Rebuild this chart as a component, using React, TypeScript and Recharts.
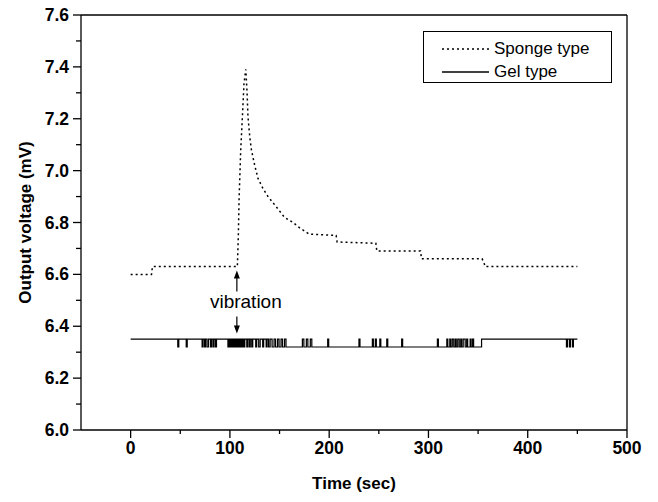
import React from 'react';
import { LineChart, Line, XAxis, YAxis, ReferenceLine, ReferenceDot, Legend } from 'recharts';

const FONT = '"Liberation Sans", Arial, sans-serif';

const seriesNames = ['Sponge type', 'Gel type'];

// sponge type sensor: time (sec) / output voltage (mV)
const spongeTime = [
  0, 21, 21.5, 22, 107.5, 108.5, 109.2, 110.9, 112.6, 114.2, 116, 117.3, 118.2, 120, 121.7,
  125, 128.3, 133.4, 138.4, 146.8, 155, 163.6, 170, 180, 207, 208, 247, 248, 292, 293,
  354, 356, 357, 450,
];
const spongeVoltage = [
  6.6, 6.6, 6.615, 6.63, 6.63, 6.75, 6.886, 7.08, 7.21, 7.336, 7.39, 7.3, 7.208, 7.13, 7.079,
  7.02, 6.97, 6.93, 6.9, 6.86, 6.82, 6.8, 6.78, 6.755, 6.75, 6.725, 6.72, 6.69, 6.69, 6.66,
  6.66, 6.645, 6.63, 6.63,
];

// gel type sensor: level changes (time, mV), held until the next entry
const gelPoints: [number, number][] = [
  [0, 6.35], [47.5, 6.32], [48.5, 6.35], [56, 6.32], [57, 6.35], [72, 6.32], [73, 6.35],
  [74.5, 6.32], [75.5, 6.35], [77, 6.32], [78.5, 6.35], [80.5, 6.32], [81.5, 6.35], [83, 6.32],
  [84, 6.35], [85.5, 6.32], [86.5, 6.35], [98, 6.32], [99, 6.35], [100, 6.32], [101, 6.35],
  [102, 6.32], [103, 6.35], [104, 6.32], [105, 6.35], [106, 6.32], [107, 6.35], [108, 6.32],
  [109, 6.35], [110, 6.32], [111, 6.35], [112, 6.32], [113, 6.35], [114, 6.32], [115, 6.35],
  [117, 6.32], [118, 6.35], [119.5, 6.32], [120.5, 6.35], [122, 6.32], [123, 6.35], [126, 6.32],
  [127, 6.35], [129, 6.32], [130.5, 6.35], [133, 6.32], [134, 6.35], [136.5, 6.32], [137.5, 6.35],
  [139, 6.32], [140.5, 6.35], [142.5, 6.32], [144.5, 6.35], [146, 6.32], [148, 6.35], [149.5, 6.32],
  [151.5, 6.35], [153, 6.32], [155, 6.35], [156.5, 6.32], [173, 6.35], [174.5, 6.32], [177, 6.35],
  [178.5, 6.32], [181, 6.35], [182.5, 6.32], [198.5, 6.35], [199.5, 6.32], [230, 6.35], [231, 6.32],
  [243.5, 6.35], [244.5, 6.32], [246.5, 6.35], [247.5, 6.32], [251, 6.35], [252, 6.32], [258, 6.35],
  [259, 6.32], [273, 6.35], [274, 6.32], [309, 6.35], [310, 6.32], [318.5, 6.35], [319.5, 6.32],
  [321.5, 6.35], [322.5, 6.32], [324, 6.35], [325.5, 6.32], [327, 6.35], [328, 6.32], [329.5, 6.35],
  [331, 6.32], [332.5, 6.35], [333.5, 6.32], [335, 6.35], [337, 6.32], [338.5, 6.35], [339.5, 6.32],
  [342, 6.35], [343, 6.32], [344.5, 6.35], [345.5, 6.32], [353.5, 6.35], [439, 6.32], [440, 6.35],
  [442, 6.32], [443, 6.35], [445, 6.32], [446, 6.35], [450, 6.35],
];

const xTicks = [0, 50, 100, 150, 200, 250, 300, 350, 400, 450, 500];
const yTicks = [6.0, 6.1, 6.2, 6.3, 6.4, 6.5, 6.6, 6.7, 6.8, 6.9, 7.0, 7.1, 7.2, 7.3, 7.4, 7.5, 7.6];

const spongeData = spongeTime.map((t, i) => ({ t, v: spongeVoltage[i] }));
const gelData = gelPoints.map(([t, v]) => ({ t, v }));

const XTick = (props: any) => {
  const { x, y, payload } = props;
  const major = payload.value % 100 === 0;
  return (
    <g>
      <line x1={x} x2={x} y1={y} y2={y + (major ? 8 : 4)} stroke="#000" strokeWidth={1.3} />
      {major && (
        <text x={x} y={y + 18} textAnchor="middle" dominantBaseline="central"
          fontFamily={FONT} fontWeight="bold" fontSize={17.5} fill="#000">
          {payload.value}
        </text>
      )}
    </g>
  );
};

const YTick = (props: any) => {
  const { x, y, payload } = props;
  const major = Math.round(payload.value * 10) % 2 === 0;
  return (
    <g>
      <line x1={x} x2={x - (major ? 8 : 5)} y1={y} y2={y} stroke="#000" strokeWidth={1.3} />
      {major && (
        <text x={x - 12} y={y} textAnchor="end" dominantBaseline="central"
          fontFamily={FONT} fontWeight="bold" fontSize={17.5} fill="#000">
          {payload.value.toFixed(1)}
        </text>
      )}
    </g>
  );
};

const YTitle = ({ viewBox }: any) => {
  const cx = viewBox.x + 25;
  const cy = viewBox.y + viewBox.height / 2;
  return (
    <text x={cx} y={cy} transform={`rotate(-90 ${cx} ${cy})`} textAnchor="middle"
      dominantBaseline="central" fontFamily={FONT} fontWeight="bold" fontSize={17} fill="#000">
      Output voltage (mV)
    </text>
  );
};

const XTitle = ({ viewBox }: any) => {
  const cx = viewBox.x + viewBox.width / 2;
  const cy = viewBox.y + 53;
  return (
    <text x={cx} y={cy} textAnchor="middle" dominantBaseline="central"
      fontFamily={FONT} fontWeight="bold" fontSize={17} fill="#000">
      Time (sec)
    </text>
  );
};

const VibrationMark = ({ cx, cy }: any) => (
  <g>
    <line x1={cx} x2={cx} y1={cy - 10} y2={cy - 25} stroke="#000" strokeWidth={1.2} />
    <polygon points={`${cx},${cy - 31} ${cx - 3},${cy - 23} ${cx + 3},${cy - 23}`} fill="#000" />
    <text x={cx + 9} y={cy} textAnchor="middle" dominantBaseline="central"
      fontFamily={FONT} fontSize={19} fill="#000">
      vibration
    </text>
    <line x1={cx} x2={cx} y1={cy + 15} y2={cy + 26} stroke="#000" strokeWidth={1.2} />
    <polygon points={`${cx},${cy + 32} ${cx - 3},${cy + 24} ${cx + 3},${cy + 24}`} fill="#000" />
  </g>
);

const renderLegend = ({ payload }: any) => {
  const items = [...(payload || [])].sort(
    (a: any, b: any) => seriesNames.indexOf(a.value) - seriesNames.indexOf(b.value),
  );
  return (
    <div style={{ border: '1px solid #000', background: '#fff', width: 189, height: 52,
      boxSizing: 'border-box', paddingTop: 5, fontFamily: FONT, fontSize: 17, color: '#000' }}>
      {items.map((entry: any) => (
        <div key={entry.value} style={{ display: 'flex', alignItems: 'center', height: 23 }}>
          <svg width={70} height={10} style={{ flex: 'none' }}>
            <line x1={18} x2={65} y1={5} y2={5} stroke="#000" strokeWidth={1.3}
              strokeDasharray={entry.payload?.strokeDasharray} />
          </svg>
          <span style={{ lineHeight: '23px' }}>{entry.value}</span>
        </div>
      ))}
    </div>
  );
};

export default function App() {
  return (
    <div style={{ position: 'absolute', left: 0, top: 0, background: '#fff' }}>
      <LineChart width={658} height={502} margin={{ top: 15, right: 31, bottom: 0, left: 0 }}>
        <XAxis type="number" dataKey="t" domain={[-50, 500]} ticks={xTicks} interval={0}
          allowDataOverflow height={72} tickSize={0} tickMargin={0} tickLine={false}
          axisLine={{ stroke: '#000', strokeWidth: 1.3 }} tick={<XTick />} label={<XTitle />} />
        <YAxis type="number" dataKey="v" domain={[6.0, 7.6]} ticks={yTicks} interval={0}
          allowDataOverflow width={81} tickSize={0} tickMargin={0} tickLine={false}
          axisLine={{ stroke: '#000', strokeWidth: 1.3 }} tick={<YTick />} label={<YTitle />} />
        <ReferenceLine y={7.6} stroke="#000" strokeWidth={1.3} ifOverflow="extendDomain" />
        <ReferenceLine x={500} stroke="#000" strokeWidth={1.3} ifOverflow="extendDomain" />
        <Legend layout="vertical" align="center" verticalAlign="middle" content={renderLegend}
          wrapperStyle={{ left: 423, top: 31, width: 189, height: 52 }} />
        <Line data={spongeData} dataKey="v" name={seriesNames[0]} type="linear" stroke="#000"
          strokeWidth={1.5} strokeDasharray="2 3" dot={false} isAnimationActive={false} />
        <Line data={gelData} dataKey="v" name={seriesNames[1]} type="stepAfter" stroke="#000"
          strokeWidth={1.2} dot={false} isAnimationActive={false} />
        <ReferenceDot x={107} y={6.495} r={0} shape={<VibrationMark />} />
      </LineChart>
    </div>
  );
}
